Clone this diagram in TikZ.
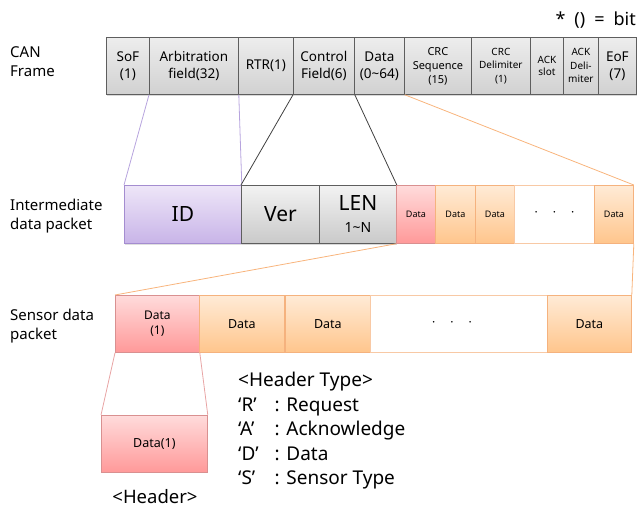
\documentclass[tikz,border=0pt]{standalone}
\usepackage{fontspec}
\setmainfont{Noto Sans}
\usetikzlibrary{shadows}

\definecolor{canline}{HTML}{5E5E5E}
\definecolor{idline}{HTML}{A48DD0}
\definecolor{idtop}{HTML}{EEE6F8}
\definecolor{idbottom}{HTML}{C8B4E8}
\definecolor{redline}{HTML}{D99090}
\definecolor{orgline}{HTML}{F5B27E}
\definecolor{linkpurple}{HTML}{B7A4DE}
\definecolor{linkgray}{HTML}{404040}
\definecolor{linkorange}{HTML}{F8B47C}
\definecolor{linkred}{HTML}{E8A4A4}

\begin{document}
\begin{tikzpicture}[x=1pt, y=-1pt,
    cell/.style={draw, line width=0.8pt, anchor=north west, inner sep=0pt, align=center},
    canbox/.style={cell, minimum height=57pt, draw=canline, top color=gray!14, bottom color=gray!36,
        drop shadow={shadow xshift=1pt, shadow yshift=-1.2pt, opacity=0.3},
        font=\fontsize{13.5}{17}\selectfont},
    smallcan/.style={font=\fontsize{10}{13.5}\selectfont},
    graybox/.style={cell, minimum height=58pt, draw=canline, top color=gray!10, bottom color=gray!42,
        drop shadow={shadow xshift=1pt, shadow yshift=-1.2pt, opacity=0.3},
        font=\fontsize{21}{22}\selectfont},
    idbox/.style={cell, minimum height=58pt, draw=idline, top color=idtop, bottom color=idbottom,
        drop shadow={shadow xshift=1pt, shadow yshift=-1.2pt, opacity=0.25},
        font=\fontsize{21}{22}\selectfont},
    redbox/.style={cell, draw=redline, top color=red!14, bottom color=red!40},
    orangebox/.style={cell, draw=orgline, top color=orange!16, bottom color=orange!45},
    gapbox/.style={cell, draw=orgline!70, fill=white},
    rowlabel/.style={anchor=west, align=left, inner sep=0pt, font=\fontsize{15}{19}\selectfont},
    link/.style={line width=0.8pt}
]
    \useasboundingbox (0,0) rectangle (638,510);

    % Row labels
    \node[rowlabel] (canlbl) at (10,62) {CAN\\Frame};
    \node[rowlabel] (midlbl) at (10,216) {Intermediate\\data packet};
    \node[rowlabel] (senlbl) at (10,326) {Sensor data\\packet};
    \node[anchor=east, inner sep=0pt, font=\fontsize{18}{20}\selectfont] (unit) at (636,20)
        {*\enspace()\enspace=\enspace bit};

    % CAN frame
    \node[canbox, minimum width=43pt] (sof) at (106,37) {SoF\\(1)};
    \node[canbox, minimum width=89pt] (arb) at (149,37) {Arbitration\\field(32)};
    \node[canbox, minimum width=55pt] (rtr) at (238,37) {RTR(1)};
    \node[canbox, minimum width=61pt] (ctl) at (293,37) {Control\\Field(6)};
    \node[canbox, minimum width=50pt] (dat) at (354,37) {Data\\(0\textasciitilde64)};
    \node[canbox, minimum width=67pt, font=\fontsize{11}{14}\selectfont] (crcs) at (404,37) {CRC\\Sequence\\(15)};
    \node[canbox, minimum width=59pt, smallcan] (crcd) at (471,37) {CRC\\Delimiter\\(1)};
    \node[canbox, minimum width=33pt, smallcan, font=\fontsize{10}{12}\selectfont] (ack) at (530,37) {ACK\\slot};
    \node[canbox, minimum width=35pt, smallcan] (ackd) at (563,37) {ACK\\Deli-\\miter};
    \node[canbox, minimum width=38pt] (eof) at (598,37) {EoF\\(7)};

    % Intermediate data packet
    \node[idbox, minimum width=117pt] (id) at (124,185) {ID};
    \node[graybox, minimum width=78pt] (ver) at (241,185) {Ver};
    \node[graybox, minimum width=77pt] (len) at (319,185) {LEN\\{\fontsize{14}{16}\selectfont 1\textasciitilde N}};
    \node[redbox, minimum width=39pt, minimum height=58pt, font=\fontsize{9}{11}\selectfont] (d1) at (396,185) {Data};
    \node[orangebox, minimum width=40pt, minimum height=58pt, font=\fontsize{9}{11}\selectfont] (d2) at (435,185) {Data};
    \node[orangebox, minimum width=39pt, minimum height=58pt, font=\fontsize{9}{11}\selectfont] (d3) at (475,185) {Data};
    \node[gapbox, minimum width=80pt, minimum height=58pt, font=\fontsize{12}{14}\selectfont] (gap1) at (514,185) {·\hspace{15pt}·\hspace{15pt}·};
    \node[orangebox, minimum width=39pt, minimum height=58pt, font=\fontsize{9}{11}\selectfont] (dn) at (594,185) {Data};

    % Sensor data packet
    \node[redbox, minimum width=84pt, minimum height=57pt, font=\fontsize{12}{15}\selectfont] (s1) at (115,295) {Data\\(1)};
    \node[orangebox, minimum width=85pt, minimum height=57pt, font=\fontsize{12.5}{15}\selectfont] (s2) at (199,295) {Data};
    \node[orangebox, minimum width=85pt, minimum height=57pt, font=\fontsize{12.5}{15}\selectfont] (s3) at (285,295) {Data};
    \node[gapbox, minimum width=177pt, minimum height=57pt, font=\fontsize{12}{14}\selectfont] (gap2) at (370,295) {·\hspace{15pt}·\hspace{15pt}·\hspace{14pt}};
    \node[orangebox, minimum width=84pt, minimum height=57pt, font=\fontsize{12.5}{15}\selectfont] (sn) at (547,295) {Data};

    % Header
    \node[redbox, minimum width=106pt, minimum height=57pt, font=\fontsize{12.5}{15}\selectfont] (hdr) at (101,415) {Data(1)};
    \node[inner sep=0pt, font=\fontsize{18.5}{22}\selectfont] (hdrlbl) at (155,497) {<Header>};
    \node[anchor=west, inner sep=0pt, font=\fontsize{19}{24.5}\selectfont] (types) at (238,431) {%
        \begin{tabular}{@{}l@{\hspace{16pt}}l@{}}
        \multicolumn{2}{@{}l@{}}{<Header Type>}\\
        ‘R’ & : Request\\
        ‘A’ & : Acknowledge\\
        ‘D’ & : Data\\
        ‘S’ & : Sensor Type
        \end{tabular}};

    % Links CAN -> intermediate
    \draw[link, linkpurple] (arb.south west) -- (id.north west);
    \draw[link, linkpurple] (arb.south east) -- (id.north east);
    \draw[link, linkgray] (ctl.south west) -- (ver.north west);
    \draw[link, linkgray] (ctl.south east) -- (len.north east);
    \draw[link, linkorange] (dat.south east) -- (dn.north east);

    % Links intermediate -> sensor
    \draw[link, linkorange] (d1.south west) -- (s1.north west);
    \draw[link, linkorange] (dn.south east) -- (sn.north east);

    % Links sensor -> header
    \draw[link, linkred] (s1.south west) -- (hdr.north west);
    \draw[link, linkred] (s1.south east) -- (hdr.north east);
\end{tikzpicture}
\end{document}
